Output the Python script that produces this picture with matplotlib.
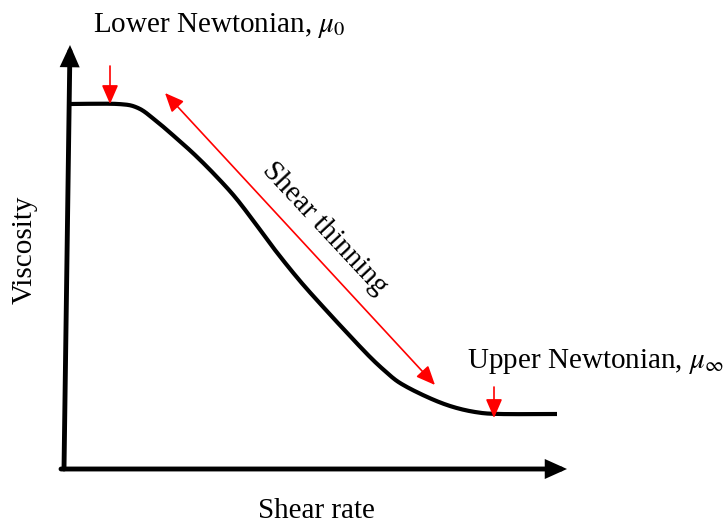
import matplotlib
matplotlib.use('Agg')
import numpy as np
from matplotlib import pyplot as plt

plt.rcParams['font.family'] = ['Liberation Serif', 'DejaVu Serif']
plt.rcParams['mathtext.fontset'] = 'stix'

# Viscosity curve (arbitrary units, origin at the axes corner)
shear_rate = [7, 55, 75, 92, 112, 132, 152, 172, 192, 212, 237, 262, 287,
              307, 322, 337, 362, 387, 412, 437, 494]
viscosity = [365, 365, 361, 349, 332, 314, 294, 272, 246, 219, 188, 160, 133,
             112, 98, 86, 73, 63, 57, 55, 55]

# Axis ends (x axis, y axis)
x_axis = [(-2, 0), (504, 0)]
y_axis = [(1, 0), (7, 424)]

# Red markers: plateau arrows and the shear-thinning span
lower_arrow = [(47, 403), (47, 365)]
upper_arrow = [(431, 82), (431, 51)]
thinning_span = [(102, 376), (372, 84)]

labels = {
    'lower': 'Lower Newtonian, $\\mu_0$',
    'upper': 'Upper Newtonian, $\\mu_\\infty$',
    'xlabel': 'Shear rate',
    'ylabel': 'Viscosity',
    'thin': 'Shear thinning',
}


# Catmull-Rom pass so the hand-drawn curve looks smooth
def smooth(xs, ys, n=12):
    p = np.column_stack([xs, ys]).astype(float)
    p = np.vstack([p[0], p, p[-1]])
    out = []
    t = np.linspace(0, 1, n, endpoint=False)[:, None]
    for i in range(1, len(p) - 2):
        p0, p1, p2, p3 = p[i - 1], p[i], p[i + 1], p[i + 2]
        seg = 0.5 * ((2 * p1) + (-p0 + p2) * t
                     + (2 * p0 - 5 * p1 + 4 * p2 - p3) * t ** 2
                     + (-p0 + 3 * p1 - 3 * p2 + p3) * t ** 3)
        out.append(seg)
    out.append(p[-2][None, :])
    out = np.vstack(out)
    return out[:, 0], out[:, 1]


fig = plt.figure(figsize=(7.26, 5.24), dpi=100)
ax = fig.add_axes([0, 0, 1, 1])
ax.set_xlim(-63, 663)
ax.set_ylim(-55, 469)
ax.axis('off')

# axes drawn as thick arrows
for (x0, y0), (x1, y1) in [x_axis, y_axis]:
    ax.annotate('', xy=(x1, y1), xytext=(x0, y0),
                arrowprops=dict(arrowstyle='-|>,head_length=1.0,head_width=0.45',
                                lw=3.5, color='black', shrinkA=0, shrinkB=0,
                                joinstyle='miter'))

sx, sy = smooth(shear_rate, viscosity)
ax.plot(sx, sy, color='black', lw=3, solid_capstyle='butt', solid_joinstyle='round')

# red arrows
for (x0, y0), (x1, y1) in [lower_arrow, upper_arrow]:
    ax.annotate('', xy=(x1, y1), xytext=(x0, y0),
                arrowprops=dict(arrowstyle='-|>,head_length=1.15,head_width=0.5',
                                lw=1.2, color='red', shrinkA=0, shrinkB=0))
(x0, y0), (x1, y1) = thinning_span
ax.annotate('', xy=(x1, y1), xytext=(x0, y0),
            arrowprops=dict(arrowstyle='<|-|>,head_length=1.15,head_width=0.5',
                            lw=1.2, color='red', shrinkA=0, shrinkB=0))

fs = 21
ax.text(30, 437, labels['lower'], fontsize=fs, ha='left', va='baseline')
ax.text(404, 101, labels['upper'], fontsize=fs, ha='left', va='baseline')
ax.text(253, -49, labels['xlabel'], fontsize=fs, ha='center', va='baseline')
ax.text(-38, 219, labels['ylabel'], fontsize=fs, ha='center', va='center', rotation=90)
ax.text(262, 241, labels['thin'], fontsize=fs, ha='center', va='center',
        rotation=-47, rotation_mode='anchor')

fig.savefig('out.png', dpi=100)
